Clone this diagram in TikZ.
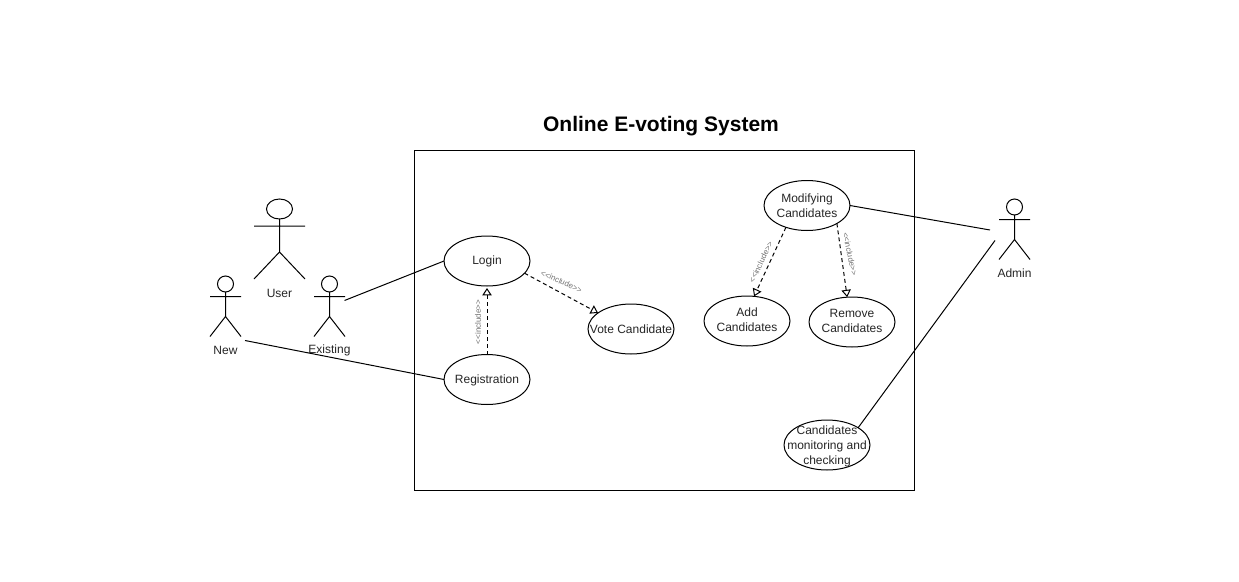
\documentclass[tikz,border=0pt]{standalone}
\usepackage{fontspec}
\setmainfont{Liberation Sans}[Ligatures=NoCommon]
\usetikzlibrary{arrows.meta,shapes.geometric}
\newcommand{\incltext}{{<}{<}include{>}{>}}
\tikzset{
  x=0.75pt,y=-0.75pt,
  line/.style={draw=black,line width=0.75pt},
  usecase/.style={ellipse,line,minimum width=64.5pt,minimum height=37.5pt,inner sep=0pt,outer sep=0pt,fill=white},
  uclabel/.style={align=center,inner sep=0pt,font=\fontsize{9}{11.25}\selectfont,text=black!85},
  actorlabel/.style={inner sep=0pt,font=\fontsize{9}{11.25}\selectfont,text=black!85},
  inc/.style={inner sep=0pt,font=\fontsize{6}{6}\selectfont,text=black!55},
  incl/.style={line,dashed,dash pattern=on 3pt off 2.25pt,-{Triangle[open,length=5.5pt,width=7pt,line width=0.75pt]}},
  assoc/.style={line}
}
\begin{document}
\begin{tikzpicture}
\useasboundingbox[fill=white] (0,0) rectangle (1239,582);
\node[inner sep=0pt,font=\fontsize{15.75}{18}\selectfont\bfseries] (title) at (661,126.5) {Online E-voting System};
\node[line,minimum width=375pt,minimum height=255pt,inner sep=0pt,outer sep=0pt] (system) at (664.5,320.5) {};

% use cases
\node[usecase,label={[uclabel,yshift=-0.5pt]center:Login}] (login) at (487,261) {};
\node[usecase,label={[uclabel,yshift=-0.5pt]center:Registration}] (reg) at (487,379.5) {};
\node[usecase,label={[uclabel,yshift=-0.5pt]center:Vote Candidate}] (vote) at (631,329) {};
\node[usecase,label={[uclabel,yshift=-0.25pt]center:Modifying\\Candidates}] (modify) at (807,205.5) {};
\node[usecase,label={[uclabel,yshift=1pt]center:Add\\Candidates}] (add) at (747,321) {};
\node[usecase,label={[uclabel,yshift=1pt]center:Remove\\Candidates}] (remove) at (852,322) {};
\node[usecase,label={[uclabel,yshift=-1.25pt]center:Candidates\\monitoring and\\checking}] (monitor) at (827,445) {};

% actors
\node[ellipse,line,minimum width=19.5pt,minimum height=15pt,inner sep=0pt,outer sep=0pt] (userhead) at (279.5,209) {};
\draw[line] (userhead.south) -- (279.5,252) (254,226) -- (305,226) (254,279) -- (279.5,252) -- (305,279);
\node[actorlabel] (userlabel) at (279.5,293) {User};

\node[circle,line,minimum size=12pt,inner sep=0pt,outer sep=0pt] (newhead) at (225.5,284) {};
\draw[line] (newhead.south) -- (225.5,316.5) (210,296.5) -- (241,296.5) (210,336.5) -- (225.5,316.5) -- (241,336.5);
\node[actorlabel] (newlabel) at (225.5,350.5) {New};

\node[circle,line,minimum size=12pt,inner sep=0pt,outer sep=0pt] (existhead) at (329.5,284) {};
\draw[line] (existhead.south) -- (329.5,316.5) (314,296.5) -- (345,296.5) (314,336.5) -- (329.5,316.5) -- (345,336.5);
\node[actorlabel] (existlabel) at (329.5,350.5) {Existing};

\node[circle,line,minimum size=12pt,inner sep=0pt,outer sep=0pt] (adminhead) at (1014.5,207) {};
\draw[line] (adminhead.south) -- (1014.5,239.5) (999,219.5) -- (1030,219.5) (999,259.5) -- (1014.5,239.5) -- (1030,259.5);
\node[actorlabel] (adminlabel) at (1014.5,273) {Admin};

% free ends of associations
\coordinate (existend) at (344.5,300.5);
\coordinate (newend) at (245,340.5);
\coordinate (adminendA) at (990,230);
\coordinate (adminendB) at (995,240.5);

% associations
\draw[assoc] (existend) -- (login.west);
\draw[assoc] (newend) -- (reg.west);
\draw[assoc] (modify.east) -- (adminendA);
\draw[assoc] (monitor.29.5) -- (adminendB);

% includes
\draw[incl,shorten >=1.5pt] (reg.north) -- (login.south);
\draw[incl] (login.-18) -- (vote.154);
\draw[incl] (modify.-134) -- (add.74);
\draw[incl] (modify.-31.7) -- (remove.101);

\node[inc,rotate=90] (incA) at (478,322) {\incltext};
\node[inc,rotate=-24] (incB) at (561.5,281.5) {\incltext};
\node[inc,rotate=64] (incC) at (761,262) {\incltext};
\node[inc,rotate=-78] (incD) at (850,254) {\incltext};
\end{tikzpicture}
\end{document}
